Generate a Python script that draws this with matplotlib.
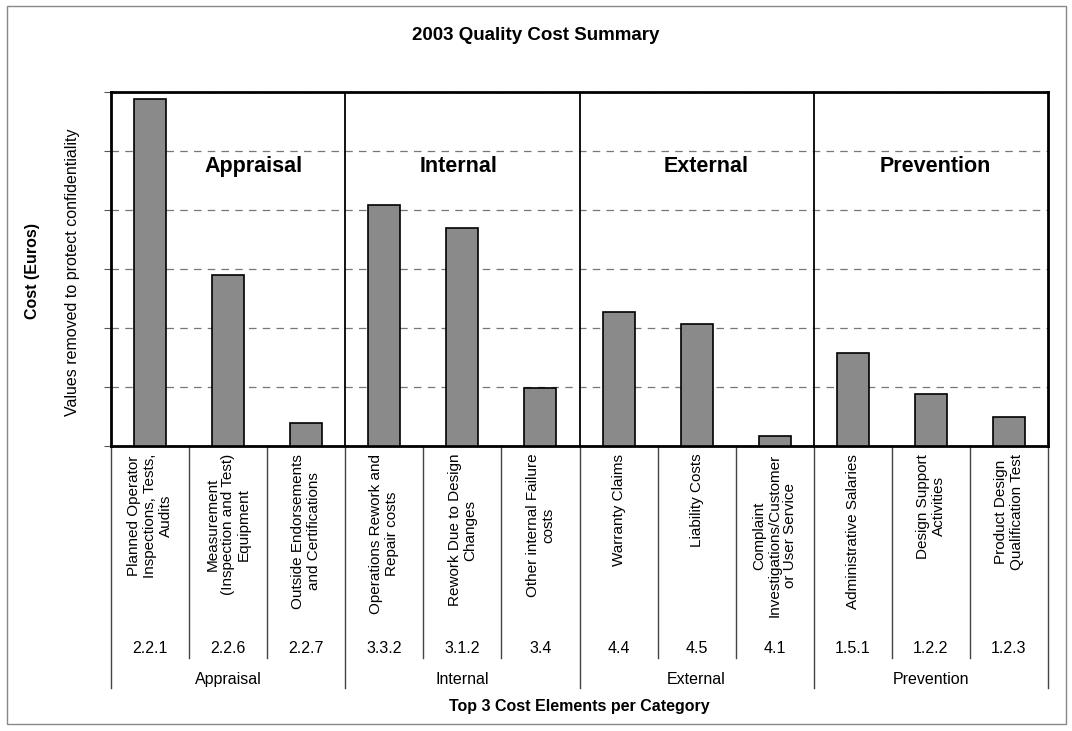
import matplotlib.pyplot as plt
from matplotlib.patches import Rectangle

plt.rcParams['font.family'] = ['Liberation Sans', 'DejaVu Sans']

# data (relative units, values hidden in source)
elements = [
    "Planned Operator\nInspections, Tests,\nAudits",
    "Measurement\n(Inspection and Test)\nEquipment",
    "Outside Endorsements\nand Certifications",
    "Operations Rework and\nRepair costs",
    "Rework Due to Design\nChanges",
    "Other internal Failure\ncosts",
    "Warranty Claims",
    "Liability Costs",
    "Complaint\nInvestigations/Customer\nor User Service",
    "Administrative Salaries",
    "Design Support\nActivities",
    "Product Design\nQualification Test",
]
codes = ["2.2.1", "2.2.6", "2.2.7", "3.3.2", "3.1.2", "3.4",
         "4.4", "4.5", "4.1", "1.5.1", "1.2.2", "1.2.3"]
categories = ["Appraisal", "Internal", "External", "Prevention"]
costs = [5.88, 2.90, 0.39, 4.08, 3.70, 0.98, 2.27, 2.07, 0.17, 1.58, 0.88, 0.49]

W, H = 1072, 731
fig = plt.figure(figsize=(W / 100, H / 100), dpi=100)
fig.patches.append(Rectangle((7 / W, 1 - 724 / H), (1066 - 7) / W, (724 - 6) / H,
                             transform=fig.transFigure, fill=False,
                             edgecolor='#888888', linewidth=1))

ax = fig.add_axes([111 / W, 1 - 446 / H, (1048 - 111) / W, (446 - 92) / H])
x = list(range(len(costs)))
ax.bar(x, costs, width=0.41, color='#8a8a8a', edgecolor='black', linewidth=1.2, zorder=3)

ax.set_xlim(-0.5, len(costs) - 0.5)
ax.set_ylim(0, 6)
ax.set_yticks([0, 1, 2, 3, 4, 5, 6])
ax.set_yticklabels([])
ax.tick_params(axis='y', direction='out', length=5, color='#555555')
ax.set_xticks([])
ax.yaxis.grid(True, linestyle=(0, (6, 5)), color='#777777', linewidth=0.9)
for s in ax.spines.values():
    s.set_linewidth(2)

# group separators and headings
head_x = [1.32, 3.95, 7.12, 10.06]
for g, name in enumerate(categories):
    ax.text(head_x[g], 4.73, name, ha='center', va='center',
            fontsize=15.5, fontweight='bold')
    if g > 0:
        ax.axvline(3 * g - 0.5, color='black', linewidth=1.3, zorder=4)

# table below the axis
trans = ax.get_xaxis_transform()
for i in range(len(costs) + 1):
    xe = i - 0.5
    y_end = -0.684 if i % 3 == 0 else -0.599
    ax.plot([xe, xe], [0, y_end], transform=trans, color='#444444',
            linewidth=1, clip_on=False)
for i, (lab, code) in enumerate(zip(elements, codes)):
    ax.text(i, -0.022, lab, transform=trans, rotation=90, ha='center', va='top',
            multialignment='center', fontsize=11, linespacing=1.15)
    ax.text(i, -0.571, code, transform=trans, ha='center', va='center', fontsize=11.5)
for g, name in enumerate(categories):
    ax.text(3 * g + 1, -0.66, name, transform=trans, ha='center', va='center',
            fontsize=11.5)

ax.text(0.5, -0.735, "Top 3 Cost Elements per Category", transform=ax.transAxes,
        ha='center', va='center', fontsize=11.5, fontweight='bold')

fig.text(0.5, 1 - 36 / H, "2003 Quality Cost Summary", ha='center', va='center',
         fontsize=13.5, fontweight='bold')
fig.text(33 / W, 1 - 271 / H, "Cost (Euros)", rotation=90, ha='center', va='center',
         fontsize=11.5, fontweight='bold')
fig.text(73 / W, 1 - 272 / H, "Values removed to protect confidentiality", rotation=90,
         ha='center', va='center', fontsize=11.5)

fig.savefig('out.png', dpi=100)
